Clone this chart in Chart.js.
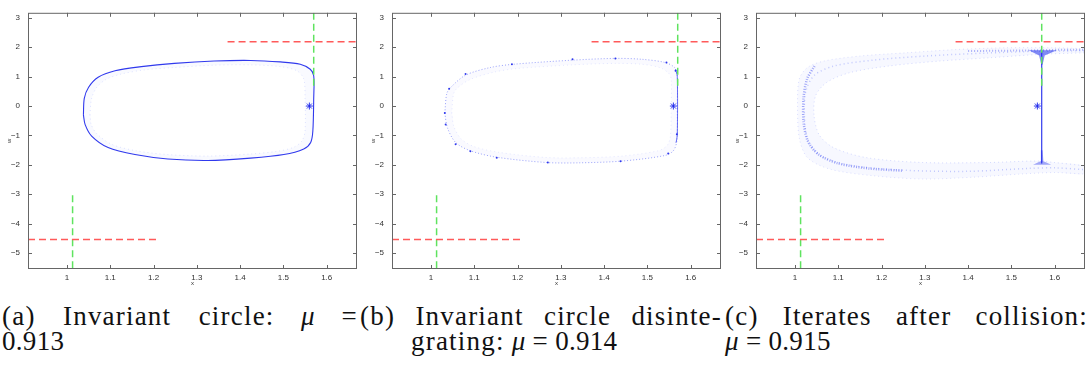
<!DOCTYPE html>
<html>
<head>
<meta charset="utf-8">
<script src="https://cdn.jsdelivr.net/npm/chart.js@4.4.1/dist/chart.umd.min.js"></script>
<style>
    body { margin: 0; background: #fff; width: 1090px; height: 375px; overflow: hidden; position: relative; }
    canvas { position: absolute; top: 0; }
    .cap { position: absolute; font-family: "Liberation Serif", serif; font-size: 27px; line-height: 26px; letter-spacing: 0.3px; color: #111; white-space: nowrap; }
    .just { text-align: justify; text-align-last: justify; white-space: normal; }
    .w { letter-spacing: 1.2px; }
</style>
</head>
<body>
<canvas id="chartA" width="362" height="290" style="left:0"></canvas>
<canvas id="chartB" width="362" height="290" style="left:364px"></canvas>
<canvas id="chartC" width="362" height="290" style="left:728px"></canvas>

<div class="cap just" style="left:2px;top:303px;width:355px"><span class="w">(a) Invariant circle:</span> <i>μ</i> =</div>
<div class="cap" style="left:2px;top:328px">0.913</div>
<div class="cap just w" style="left:360px;top:303px;width:362px">(b) Invariant circle disinte-</div>
<div class="cap" style="left:411px;top:328px"><span class="w">grating:</span> <i>μ</i> = 0.914</div>
<div class="cap just w" style="left:725px;top:303px;width:363px">(c) Iterates after collision:</div>
<div class="cap" style="left:725px;top:328px"><i>μ</i> = 0.915</div>

<script>
// ---- axes ----
const X_TICKS = [1, 1.1, 1.2, 1.3, 1.4, 1.5, 1.6];
const Y_TICKS = [-5, -4, -3, -2, -1, 0, 1, 2, 3];
const X_MIN = 0.91, X_MAX = 1.67;
const Y_MIN = -5.54, Y_MAX = 3.17;

// ---- reference lines (same in every panel) ----
const RED_UPPER = [[1.371, 2.19], [1.67, 2.19]];
const RED_LOWER = [[0.91, -4.54], [1.214, -4.54]];
const GREEN_UPPER = [[1.570, 3.17], [1.570, 0.68]];
const GREEN_LOWER = [[1.013, -3.03], [1.013, -5.54]];
const FIXED_POINT = [[1.56, 0]];

// ---- (a) mu = 0.913 : invariant circle ----
const A_CURVE = [
    [1.038, -0.30], [1.040, 0.26], [1.050, 0.64], [1.072, 0.98], [1.111, 1.20],
    [1.172, 1.34], [1.248, 1.45], [1.340, 1.53], [1.424, 1.55], [1.493, 1.50],
    [1.539, 1.42], [1.562, 1.25], [1.570, 1.03], [1.570, 0.26], [1.568, -0.85],
    [1.563, -1.24], [1.547, -1.46], [1.501, -1.65], [1.424, -1.77], [1.325, -1.85],
    [1.233, -1.80], [1.157, -1.65], [1.095, -1.41], [1.057, -1.02], [1.042, -0.63],
    [1.038, -0.30],
];
const A_INNER = [
    [1.053, -0.30], [1.057, 0.26], [1.069, 0.64], [1.092, 0.92], [1.126, 1.09],
    [1.180, 1.23], [1.248, 1.31], [1.340, 1.39], [1.424, 1.40], [1.493, 1.34],
    [1.531, 1.20], [1.547, 0.92], [1.550, 0.26], [1.550, -0.85], [1.543, -1.18],
    [1.524, -1.40], [1.485, -1.54], [1.424, -1.63], [1.325, -1.70], [1.233, -1.65],
    [1.160, -1.52], [1.103, -1.30], [1.069, -0.94], [1.056, -0.63], [1.053, -0.30],
];

// ---- (b) mu = 0.914 : circle breaking up ----
const B_CURVE = [
    [1.032, -0.24], [1.0365, 0.42], [1.046, 0.64], [1.080, 1.05], [1.137, 1.31],
    [1.190, 1.42], [1.327, 1.56], [1.426, 1.62], [1.487, 1.59], [1.541, 1.48],
    [1.563, 1.31], [1.569, 1.09], [1.569, 0.03], [1.568, -1.18], [1.560, -1.52],
    [1.541, -1.68], [1.442, -1.87], [1.343, -1.93], [1.267, -1.92], [1.152, -1.74],
    [1.091, -1.52], [1.057, -1.24], [1.038, -0.74], [1.032, -0.24],
];
const B_INNER = [
    [1.048, -0.24], [1.052, 0.40], [1.060, 0.60], [1.090, 0.90], [1.145, 1.15],
    [1.195, 1.27], [1.327, 1.40], [1.426, 1.45], [1.487, 1.42], [1.530, 1.30],
    [1.550, 1.10], [1.555, 0.90], [1.555, 0.03], [1.553, -1.05], [1.545, -1.35],
    [1.525, -1.52], [1.442, -1.70], [1.343, -1.76], [1.267, -1.75], [1.160, -1.58],
    [1.100, -1.38], [1.070, -1.12], [1.053, -0.70], [1.048, -0.24],
];
const B_EDGE = [[1.565, 1.25], [1.569, 1.00], [1.569, -1.00], [1.566, -1.25]];
const B_SPOTS = [
    [1.187, 1.42], [1.327, 1.59], [1.426, 1.62], [1.544, 1.48], [1.565, 1.20],
    [1.568, -0.96], [1.548, -1.61], [1.438, -1.88], [1.270, -1.92], [1.152, -1.76],
    [1.091, -1.54], [1.057, -1.30], [1.034, -0.63], [1.032, -0.24], [1.042, 0.59],
    [1.080, 1.09],
];

// ---- (c) mu = 0.915 : iterates after collision ----
const C_OUTER = [
    [1.668, 1.95], [1.600, 1.98], [1.486, 1.98], [1.372, 1.92], [1.257, 1.81],
    [1.150, 1.70], [1.067, 1.53], [1.029, 1.31], [1.010, 0.92], [1.006, 0.03],
    [1.010, -1.09], [1.029, -1.76], [1.082, -2.15], [1.181, -2.37], [1.295, -2.48],
    [1.410, -2.42], [1.524, -2.31], [1.600, -2.26], [1.668, -2.31],
];
const C_INNER = [
    [1.668, 1.81], [1.570, 1.76], [1.448, 1.64], [1.334, 1.53], [1.219, 1.365],
    [1.128, 1.14], [1.074, 0.81], [1.048, 0.36], [1.044, -0.31], [1.056, -0.98],
    [1.090, -1.42], [1.166, -1.756], [1.295, -1.92], [1.448, -1.92], [1.555, -1.87],
    [1.600, -1.92], [1.668, -2.03],
];
const C_MID = [
    [1.668, 1.88], [1.560, 1.86], [1.440, 1.80], [1.300, 1.70], [1.180, 1.56],
    [1.090, 1.36], [1.045, 1.05], [1.025, 0.50], [1.022, -0.40], [1.030, -1.15],
    [1.060, -1.70], [1.130, -2.02], [1.250, -2.18], [1.400, -2.22], [1.540, -2.12],
    [1.600, -2.10], [1.668, -2.16],
];
const C_DENSE = [
    [1.045, 1.36], [1.028, 0.92], [1.020, 0.30], [1.020, -0.55], [1.030, -1.20],
    [1.055, -1.65], [1.100, -1.95], [1.170, -2.12], [1.250, -2.20],
];
const C_TOP_DENSE = [[1.400, 1.87], [1.540, 1.89], [1.600, 1.91], [1.668, 1.91]];
const C_VERTICAL = [[1.570, 1.90], [1.570, -1.95]];
const C_FUNNEL_TOP = [[1.540, 1.90], [1.564, 1.72], [1.569, 1.40], [1.572, 1.40], [1.577, 1.72], [1.605, 1.90]];
const C_FUNNEL_BOTTOM = [[1.550, -2.00], [1.567, -1.88], [1.568, -1.50], [1.572, -1.50], [1.574, -1.88], [1.592, -2.00]];

// ---- palette ----
const BLUE = "rgba(25,35,235,0.9)";
const RED = "#ff5a5a";
const GREEN = "#5fe35f";
const TICK_FONT = { family: "'Liberation Sans', Arial, sans-serif", size: 8 };
const TICK_COLOR = "#333";

const pts = (arr) => arr.map(([x, y]) => ({ x, y }));

function line(data, color, width, extra) {
    return Object.assign({
        data: pts(data),
        borderColor: color,
        borderWidth: width,
        pointRadius: 0,
        fill: false,
        tension: 0,
    }, extra || {});
}

function band(outer, inner, color) {
    return line(outer.concat(inner.slice().reverse()), "rgba(0,0,0,0)", 0, {
        fill: "shape",
        backgroundColor: color,
        tension: 0.3,
    });
}

function refLines() {
    return [
        line(RED_UPPER, RED, 1.5, { borderDash: [7, 4] }),
        line(RED_LOWER, RED, 1.5, { borderDash: [7, 4] }),
        line(GREEN_UPPER, GREEN, 1.5, { borderDash: [7, 4] }),
        line(GREEN_LOWER, GREEN, 1.5, { borderDash: [7, 4] }),
        {
            data: pts(FIXED_POINT),
            showLine: false,
            pointStyle: "star",
            pointRadius: 3.5,
            borderColor: BLUE,
            borderWidth: 1,
        },
    ];
}

// inward tick marks on all four sides plus the box
const frameTicks = {
    id: "frameTicks",
    afterDatasetsDraw(chart) {
        const { ctx, chartArea: a, scales: { x, y } } = chart;
        ctx.save();
        ctx.strokeStyle = "#666";
        ctx.lineWidth = 1;
        ctx.strokeRect(a.left + 0.5, a.top + 0.5, a.width - 1, a.height - 1);
        ctx.beginPath();
        x.ticks.forEach((t) => {
            const p = Math.round(x.getPixelForValue(t.value)) + 0.5;
            ctx.moveTo(p, a.bottom); ctx.lineTo(p, a.bottom - 4);
            ctx.moveTo(p, a.top); ctx.lineTo(p, a.top + 4);
        });
        y.ticks.forEach((t) => {
            const p = Math.round(y.getPixelForValue(t.value)) + 0.5;
            ctx.moveTo(a.left, p); ctx.lineTo(a.left + 4, p);
            ctx.moveTo(a.right, p); ctx.lineTo(a.right - 4, p);
        });
        ctx.stroke();
        ctx.restore();
    },
};

function makePanel(id, datasets) {
    new Chart(document.getElementById(id), {
        type: "line",
        data: { datasets },
        options: {
            responsive: false,
            animation: false,
            devicePixelRatio: 1,
            layout: { padding: { top: 7, right: 3, left: 0, bottom: 0 } },
            plugins: { legend: { display: false }, tooltip: { enabled: false } },
            scales: {
                x: {
                    type: "linear",
                    min: X_MIN,
                    max: X_MAX,
                    afterBuildTicks: (s) => { s.ticks = X_TICKS.map((v) => ({ value: v })); },
                    afterFit: (s) => { s.height = 21; },
                    grid: { display: false, drawTicks: false },
                    border: { display: false },
                    ticks: { font: TICK_FONT, color: TICK_COLOR, padding: 4, maxRotation: 0, autoSkip: false, callback: (v) => String(v) },
                    title: { display: true, text: "x", font: { family: TICK_FONT.family, size: 6 }, color: TICK_COLOR, padding: { top: 0, bottom: 3 } },
                },
                y: {
                    type: "linear",
                    min: Y_MIN,
                    max: Y_MAX,
                    afterBuildTicks: (s) => { s.ticks = Y_TICKS.map((v) => ({ value: v })); },
                    afterFit: (s) => { s.width = 28; },
                    grid: { display: false, drawTicks: false },
                    border: { display: false },
                    ticks: {
                        font: TICK_FONT,
                        color: TICK_COLOR,
                        padding: 8,
                        autoSkip: false,
                        callback: (v) => (v < 0 ? "\u2212" + Math.abs(v) : String(v)),
                    },
                    title: { display: true, text: "w", font: { family: TICK_FONT.family, size: 6 }, color: TICK_COLOR, padding: { top: 6, bottom: 0 } },
                },
            },
        },
        plugins: [frameTicks],
    });
}

// ---- Init ----
makePanel("chartA", refLines().concat([
    line(A_CURVE, BLUE, 1.1, { tension: 0.3 }),
    line(A_INNER, "rgba(90,110,255,0.18)", 1, { tension: 0.3, borderDash: [1, 3] }),
    band(A_CURVE, A_INNER, "rgba(90,110,255,0.035)"),
]));

makePanel("chartB", refLines().concat([
    line(B_SPOTS, BLUE, 0, { showLine: false, pointRadius: 1, pointBackgroundColor: BLUE, pointBorderWidth: 0 }),
    line(B_EDGE, "rgba(40,50,240,0.7)", 1, { tension: 0.3 }),
    line(B_CURVE, "rgba(60,75,245,0.5)", 1, { tension: 0.3, borderDash: [1, 2] }),
    line(B_INNER, "rgba(90,110,255,0.15)", 1, { tension: 0.3, borderDash: [1, 3] }),
    band(B_CURVE, B_INNER, "rgba(90,110,255,0.03)"),
]));

makePanel("chartC", refLines().concat([
    line(C_VERTICAL, BLUE, 1.2),
    line(C_FUNNEL_TOP, "rgba(0,0,0,0)", 0, { fill: "shape", backgroundColor: "rgba(30,45,235,0.55)" }),
    line(C_FUNNEL_BOTTOM, "rgba(0,0,0,0)", 0, { fill: "shape", backgroundColor: "rgba(30,45,235,0.4)" }),
    line(C_TOP_DENSE, "rgba(50,65,240,0.4)", 2, { borderDash: [1, 2] }),
    line(C_DENSE, "rgba(50,65,240,0.45)", 2.5, { tension: 0.3, borderDash: [1, 1.5] }),
    line(C_MID, "rgba(70,90,250,0.3)", 1.5, { tension: 0.3, borderDash: [1, 3] }),
    line(C_INNER, "rgba(70,90,250,0.22)", 1, { tension: 0.3, borderDash: [1, 3] }),
    line(C_OUTER, "rgba(70,90,250,0.18)", 1, { tension: 0.3, borderDash: [1, 3] }),
    band(C_OUTER, C_INNER, "rgba(90,110,255,0.05)"),
]));
</script>
</body>
</html>
